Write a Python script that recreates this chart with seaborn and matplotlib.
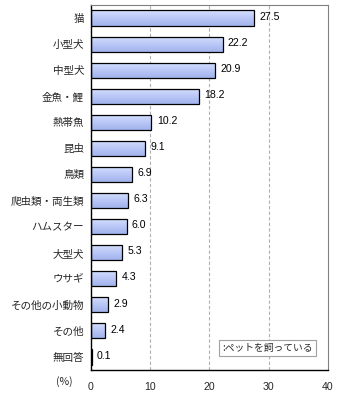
import matplotlib
matplotlib.use("Agg")
import matplotlib.pyplot as plt
from matplotlib.colors import LinearSegmentedColormap
import seaborn as sns
import pandas as pd
import numpy as np

categories = ["猫", "小型犬", "中型犬", "金魚・鯉", "熱帯魚", "昆虫", "鳥類", "爬虫類・両生類",
              "ハムスター", "大型犬", "ウサギ", "その他の小動物", "その他", "無回答"]
values = [27.5, 22.2, 20.9, 18.2, 10.2, 9.1, 6.9, 6.3, 6.0, 5.3, 4.3, 2.9, 2.4, 0.1]
xticks = [0, 10, 20, 30, 40]
legend_label = ":ペットを飼っている"

sns.set_style("white")
plt.rcParams['font.family'] = ['Noto Sans CJK JP', 'DejaVu Sans']

df = pd.DataFrame({"cat": categories, "val": values})

fig = plt.figure(figsize=(3.4, 4.0), dpi=100)
ax = fig.add_axes([91/340, 1-370/400, (328-91)/340, (370-5)/400])

sns.barplot(data=df, x="val", y="cat", orient="h", color="#b3c2f2",
            edgecolor="black", linewidth=0.9, width=0.58, saturation=1, ax=ax)

# vertical gradient fill (light top, deeper bottom), clipped to each bar drawn by seaborn
cmap = LinearSegmentedColormap.from_list("g", ["#d6e0fd", "#c4d0f9", "#b2c1f3", "#a3b4ee"])
grad = np.linspace(0, 1, 64).reshape(-1, 1)
for p in list(ax.patches):
    x0, y0 = p.get_x(), p.get_y()
    w, h = p.get_width(), p.get_height()
    # y axis is inverted: y0 is the visual top of the bar
    im = ax.imshow(grad, cmap=cmap, aspect="auto", extent=(x0, x0 + w, y0 + h, y0),
                   origin="upper", zorder=p.get_zorder() + 0.1, interpolation="bilinear")
    im.set_clip_path(p)
    p.set_facecolor("none")
    p.set_zorder(p.get_zorder() + 0.2)

fs = 7.6
for i, v in enumerate(values):
    ax.text(v + 0.9, i - 0.05, f"{v:.1f}", va="center", ha="left", fontsize=fs,
            family=['Liberation Sans', 'DejaVu Sans'], color="black")

ax.set_xlim(0, 40)
ax.set_ylim(len(categories) - 0.5, -0.5)
ax.set_aspect("auto")
ax.set_xticks(xticks)
ax.set_xticklabels([str(t) for t in xticks], fontsize=fs, family=['Liberation Sans', 'DejaVu Sans'])
ax.tick_params(axis="x", length=0, pad=9)
ax.tick_params(axis="y", which="major", length=0, pad=5, labelsize=fs)
ax.set_yticks(np.arange(-0.5, len(categories)), minor=True)
ax.tick_params(axis="y", which="minor", direction="in", length=3, width=0.8, color="black")
ax.set_xlabel("")
ax.set_ylabel("")

for t in xticks[1:-1]:
    ax.axvline(t, color="#b0b0b0", linestyle=(0, (3, 2)), linewidth=0.8, zorder=0)

for s in ["top", "right"]:
    ax.spines[s].set_color("#808080")
    ax.spines[s].set_linewidth(0.8)
for s in ["left", "bottom"]:
    ax.spines[s].set_color("black")
    ax.spines[s].set_linewidth(1.0)

ax.text((222-91)/237, 1-(348-5)/365, legend_label, transform=ax.transAxes, fontsize=7.0,
        va="center", ha="left",
        bbox=dict(boxstyle="square,pad=0.35", facecolor="white", edgecolor="#a0a0a0", linewidth=0.8))

fig.text(64/340, 1-382/400, "(%)", fontsize=fs, ha="center", va="center")

fig.savefig("out.png", dpi=100)
